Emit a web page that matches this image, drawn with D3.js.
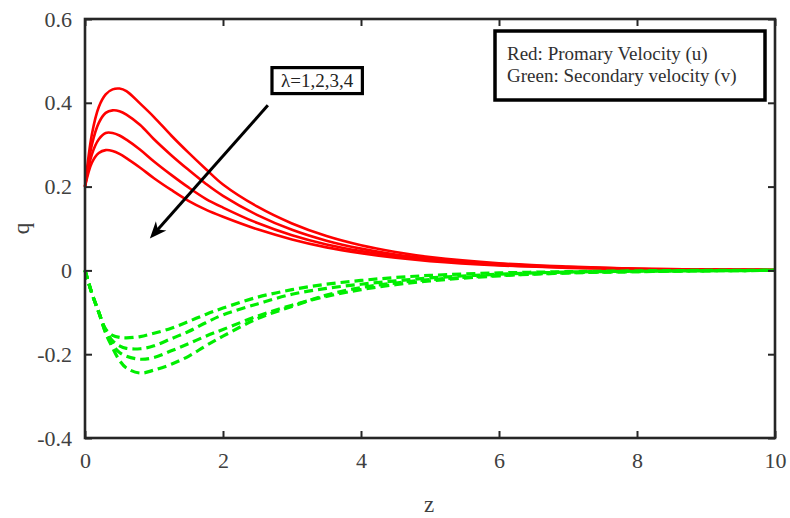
<!DOCTYPE html>
<html>
<head>
<meta charset="utf-8">
<script src="https://cdn.jsdelivr.net/npm/d3@7"></script>
<style>
  html, body { margin: 0; padding: 0; background: #fff; }
  svg { display: block; }
</style>
</head>
<body>
<svg id="chart" width="790" height="518"></svg>
<script>
// Axial position z
const zValues = [0, 0.1, 0.2, 0.3, 0.4, 0.5, 0.6, 0.8, 1.0, 1.25, 1.5, 1.75, 2, 2.5, 3, 3.5, 4, 4.5, 5, 6, 7, 8, 9, 10];

// Primary velocity u for lambda = 1, 2, 3, 4
const uLambda1 = [0.2, 0.325, 0.39, 0.42, 0.432, 0.434, 0.428, 0.398, 0.366, 0.322, 0.281, 0.242, 0.205, 0.152, 0.112, 0.082, 0.060, 0.044, 0.032, 0.017, 0.009, 0.004, 0.002, 0.001];
const uLambda2 = [0.2, 0.300, 0.352, 0.376, 0.382, 0.380, 0.372, 0.347, 0.313, 0.275, 0.240, 0.207, 0.178, 0.132, 0.097, 0.071, 0.052, 0.038, 0.028, 0.015, 0.008, 0.004, 0.002, 0.001];
const uLambda3 = [0.2, 0.277, 0.313, 0.328, 0.328, 0.322, 0.312, 0.288, 0.260, 0.228, 0.198, 0.171, 0.150, 0.113, 0.084, 0.062, 0.046, 0.034, 0.025, 0.013, 0.007, 0.003, 0.002, 0.001];
const uLambda4 = [0.2, 0.257, 0.280, 0.287, 0.285, 0.278, 0.268, 0.245, 0.220, 0.192, 0.166, 0.145, 0.128, 0.098, 0.074, 0.055, 0.041, 0.030, 0.022, 0.012, 0.006, 0.003, 0.0015, 0.001];

// Secondary velocity v for lambda = 1, 2, 3, 4
const vLambda1 = [0, -0.055, -0.100, -0.140, -0.155, -0.160, -0.161, -0.158, -0.150, -0.138, -0.122, -0.105, -0.090, -0.064, -0.046, -0.033, -0.024, -0.017, -0.012, -0.006, -0.003, -0.001, 0, 0];
const vLambda2 = [0, -0.055, -0.100, -0.143, -0.168, -0.180, -0.186, -0.187, -0.180, -0.163, -0.146, -0.125, -0.106, -0.080, -0.057, -0.043, -0.033, -0.025, -0.018, -0.009, -0.004, -0.002, -0.001, 0];
const vLambda3 = [0, -0.055, -0.100, -0.148, -0.178, -0.196, -0.205, -0.212, -0.208, -0.192, -0.175, -0.157, -0.141, -0.109, -0.083, -0.062, -0.046, -0.034, -0.025, -0.013, -0.006, -0.003, -0.001, 0];
const vLambda4 = [0, -0.055, -0.100, -0.150, -0.185, -0.215, -0.233, -0.245, -0.238, -0.224, -0.205, -0.180, -0.157, -0.115, -0.086, -0.059, -0.041, -0.030, -0.022, -0.012, -0.006, -0.003, -0.001, 0];

const primarySeries = [uLambda1, uLambda2, uLambda3, uLambda4];
const secondarySeries = [vLambda1, vLambda2, vLambda3, vLambda4];

// Tick values and labels
const xTicks = [0, 2, 4, 6, 8, 10];
const yTicks = [-0.4, -0.2, 0, 0.2, 0.4, 0.6];
const yTickLabels = ["-0.4", "-0.2", "0", "0.2", "0.4", "0.6"];

// Text annotations
const legendLines = ["Red: Promary Velocity (u)", "Green: Secondary velocity (v)"];
const lambdaLabel = "\u03bb=1,2,3,4";
// Annotation arrow, in data units: [z, q] from start to tip
const arrowFrom = [2.65, 0.394];
const arrowTo = [0.94, 0.076];
// Label box corners in data units
const lambdaBox = { z0: 2.71, z1: 4.02, q0: 0.422, q1: 0.484 };

const serif = "Times New Roman, Liberation Serif, Tinos, DejaVu Serif, serif";

const svg = d3.select("#chart").attr("font-family", serif);
const plotLeft = 85, plotRight = 775, plotTop = 19, plotBottom = 438;

const x = d3.scaleLinear().domain([0, 10]).range([plotLeft, plotRight]);
const y = d3.scaleLinear().domain([-0.4, 0.6]).range([plotBottom, plotTop]);

const axisColor = "#262626";
const labelColor = "#404040";

// Curves
const line = d3.line()
  .x((d, i) => x(zValues[i]))
  .y(d => y(d))
  .curve(d3.curveCatmullRom.alpha(0.5));

const plot = svg.append("g");
plot.selectAll("path.u").data(primarySeries).join("path")
  .attr("class", "u")
  .attr("d", line)
  .attr("fill", "none")
  .attr("stroke", "#ff0000")
  .attr("stroke-width", 2.6);

plot.selectAll("path.v").data(secondarySeries).join("path")
  .attr("class", "v")
  .attr("d", line)
  .attr("fill", "none")
  .attr("stroke", "#00ee00")
  .attr("stroke-width", 3.2)
  .attr("stroke-dasharray", "9,5");

// Axes with inward ticks on all four sides
function styleAxis(g) {
  g.attr("font-family", serif).attr("font-size", 22);
  g.select(".domain").remove();
  g.selectAll(".tick line").attr("stroke", axisColor).attr("stroke-width", 2);
  g.selectAll(".tick text").attr("fill", labelColor);
}

svg.append("g")
  .attr("transform", `translate(0,${plotBottom})`)
  .call(d3.axisBottom(x).tickValues(xTicks).tickFormat(d3.format("d")).tickSize(-7).tickPadding(14))
  .call(styleAxis);

svg.append("g")
  .attr("transform", `translate(0,${plotTop})`)
  .call(d3.axisTop(x).tickValues(xTicks).tickFormat("").tickSize(-7))
  .call(styleAxis);

svg.append("g")
  .attr("transform", `translate(${plotLeft},0)`)
  .call(d3.axisLeft(y).tickValues(yTicks).tickFormat((d, i) => yTickLabels[i]).tickSize(-7).tickPadding(13))
  .call(styleAxis);

svg.append("g")
  .attr("transform", `translate(${plotRight},0)`)
  .call(d3.axisRight(y).tickValues(yTicks).tickFormat("").tickSize(-7))
  .call(styleAxis);

// Plot frame
svg.append("rect")
  .attr("x", plotLeft).attr("y", plotTop)
  .attr("width", plotRight - plotLeft).attr("height", plotBottom - plotTop)
  .attr("fill", "none")
  .attr("stroke", axisColor)
  .attr("stroke-width", 2.6);

// Axis titles
svg.append("text")
  .attr("x", (plotLeft + plotRight) / 2 - 1)
  .attr("y", 512)
  .attr("text-anchor", "middle")
  .attr("fill", labelColor)
  .attr("font-size", 23)
  .text("z");

svg.append("text")
  .attr("transform", `translate(29, ${(plotTop + plotBottom) / 2}) rotate(-90)`)
  .attr("text-anchor", "middle")
  .attr("fill", labelColor)
  .attr("font-size", 23)
  .text("q");

// Arrow annotation
const ax0 = x(arrowFrom[0]), ay0 = y(arrowFrom[1]);
const ax1 = x(arrowTo[0]), ay1 = y(arrowTo[1]);
const ang = Math.atan2(ay1 - ay0, ax1 - ax0) * 180 / Math.PI;
const headLen = 17;
const len = Math.hypot(ax1 - ax0, ay1 - ay0);
svg.append("line")
  .attr("x1", ax0).attr("y1", ay0)
  .attr("x2", ax0 + (ax1 - ax0) * (len - 10) / len)
  .attr("y2", ay0 + (ay1 - ay0) * (len - 10) / len)
  .attr("stroke", "#000")
  .attr("stroke-width", 3);
svg.append("path")
  .attr("d", `M0,0 L${-headLen},${-7} L${-headLen + 5},0 L${-headLen},7 Z`)
  .attr("transform", `translate(${ax1},${ay1}) rotate(${ang})`)
  .attr("fill", "#000");

// Lambda label box
svg.append("rect")
  .attr("x", x(lambdaBox.z0)).attr("y", y(lambdaBox.q1))
  .attr("width", x(lambdaBox.z1) - x(lambdaBox.z0))
  .attr("height", y(lambdaBox.q0) - y(lambdaBox.q1))
  .attr("fill", "#fff")
  .attr("stroke", "#000")
  .attr("stroke-width", 3.2);
svg.append("text")
  .attr("x", (x(lambdaBox.z0) + x(lambdaBox.z1)) / 2)
  .attr("y", (y(lambdaBox.q0) + y(lambdaBox.q1)) / 2 + 6)
  .attr("text-anchor", "middle")
  .attr("fill", "#222")
  .attr("font-size", 19)
  .text(lambdaLabel);

// Legend box
const legend = svg.append("g").attr("transform", "translate(495,31)");
legend.append("rect")
  .attr("width", 270).attr("height", 69)
  .attr("fill", "#fff")
  .attr("stroke", "#000")
  .attr("stroke-width", 3.5);
legend.selectAll("text").data(legendLines).join("text")
  .attr("x", 12)
  .attr("y", (d, i) => 29 + i * 22)
  .attr("fill", "#303030")
  .attr("font-size", 19)
  .text(d => d);
</script>
</body>
</html>
